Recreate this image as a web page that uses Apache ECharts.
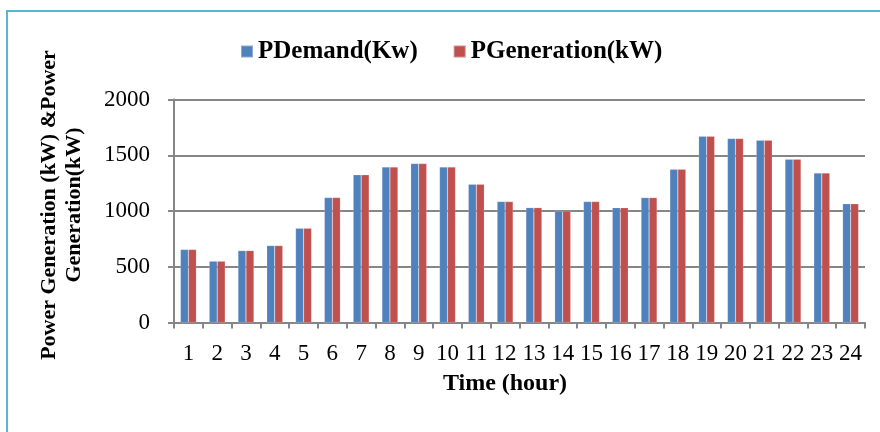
<!DOCTYPE html>
<html>
<head>
<meta charset="utf-8">
<script src="https://cdn.jsdelivr.net/npm/echarts@6/dist/echarts.min.js"></script>
<style>
  html, body { margin: 0; padding: 0; background: #ffffff; }
  #chart { width: 880px; height: 432px; }
</style>
</head>
<body>
<div id="chart"></div>
<script>
// Hourly demand and generation (kW) over one day
const hours = ['1','2','3','4','5','6','7','8','9','10','11','12','13','14','15','16','17','18','19','20','21','22','23','24'];
const pDemand = [655, 550, 645, 690, 845, 1120, 1325, 1395, 1425, 1395, 1240, 1085, 1030, 1000, 1085, 1030, 1120, 1375, 1670, 1650, 1635, 1465, 1340, 1065];
const pGeneration = [655, 550, 645, 690, 845, 1120, 1325, 1395, 1425, 1395, 1240, 1085, 1030, 1000, 1085, 1030, 1120, 1375, 1670, 1650, 1635, 1465, 1340, 1065];
const yTicks = { min: 0, max: 2000, step: 500 };
const seriesNames = ['PDemand(Kw)', 'PGeneration(kW)'];

const SERIF = '"Liberation Serif", "Times New Roman", serif';
const AXIS_GREY = '#868686';

const chart = echarts.init(document.getElementById('chart'), null, { renderer: 'canvas' });

chart.setOption({
  animation: false,
  backgroundColor: '#ffffff',
  color: ['#4F81BD', '#C0504D'],
  legend: {
    data: seriesNames,
    left: 235,
    top: 34,
    icon: 'rect',
    itemWidth: 12,
    itemHeight: 12,
    itemGap: 35,
    textStyle: {
      fontFamily: SERIF,
      fontWeight: 'bold',
      fontSize: 25,
      color: '#000000'
    }
  },
  grid: {
    left: 174,
    right: 15,
    top: 99.5,
    bottom: 109.5,
    containLabel: false
  },
  xAxis: {
    type: 'category',
    data: hours,
    boundaryGap: true,
    axisLine: { show: true, lineStyle: { color: AXIS_GREY, width: 2 } },
    axisTick: { show: true, length: 6, interval: 0, lineStyle: { color: AXIS_GREY, width: 2 } },
    axisLabel: {
      interval: 0,
      margin: 20,
      fontFamily: SERIF,
      fontSize: 23,
      color: '#000000'
    },
    splitLine: { show: false }
  },
  yAxis: {
    type: 'value',
    min: yTicks.min,
    max: yTicks.max,
    interval: yTicks.step,
    axisLine: { show: true, lineStyle: { color: AXIS_GREY, width: 2 } },
    axisTick: { show: true, length: 6, lineStyle: { color: AXIS_GREY, width: 2 } },
    axisLabel: {
      margin: 24,
      fontFamily: SERIF,
      fontSize: 23,
      color: '#000000',
      formatter: (v) => String(v)
    },
    splitLine: { show: true, lineStyle: { color: AXIS_GREY, width: 2 } }
  },
  series: [
    {
      name: seriesNames[0],
      type: 'bar',
      data: pDemand,
      barWidth: 8,
      barGap: '0%',
      itemStyle: { borderColor: 'rgba(255,255,255,0.35)', borderWidth: 0.5 }
    },
    {
      name: seriesNames[1],
      type: 'bar',
      data: pGeneration,
      barWidth: 8,
      barGap: '0%',
      itemStyle: { borderColor: 'rgba(255,255,255,0.35)', borderWidth: 0.5 }
    }
  ],
  graphic: [
    {
      // outer frame, open to the right and bottom
      type: 'rect',
      z: 0,
      silent: true,
      shape: { x: 7, y: 11, width: 920, height: 460 },
      style: { fill: 'none', stroke: '#5BB7CF', lineWidth: 2 }
    },
    {
      type: 'text',
      silent: true,
      x: 62,
      y: 205,
      rotation: Math.PI / 2,
      style: {
        text: 'Power Generation (kW) &Power\nGeneration(kW)',
        fontFamily: SERIF,
        fontWeight: 'bold',
        fontSize: 22,
        lineHeight: 25,
        fill: '#000000',
        align: 'center',
        verticalAlign: 'middle'
      }
    },
    {
      type: 'text',
      silent: true,
      x: 505,
      y: 384,
      style: {
        text: 'Time (hour)',
        fontFamily: SERIF,
        fontWeight: 'bold',
        fontSize: 24,
        fill: '#000000',
        align: 'center',
        verticalAlign: 'middle'
      }
    }
  ]
});
</script>
</body>
</html>
